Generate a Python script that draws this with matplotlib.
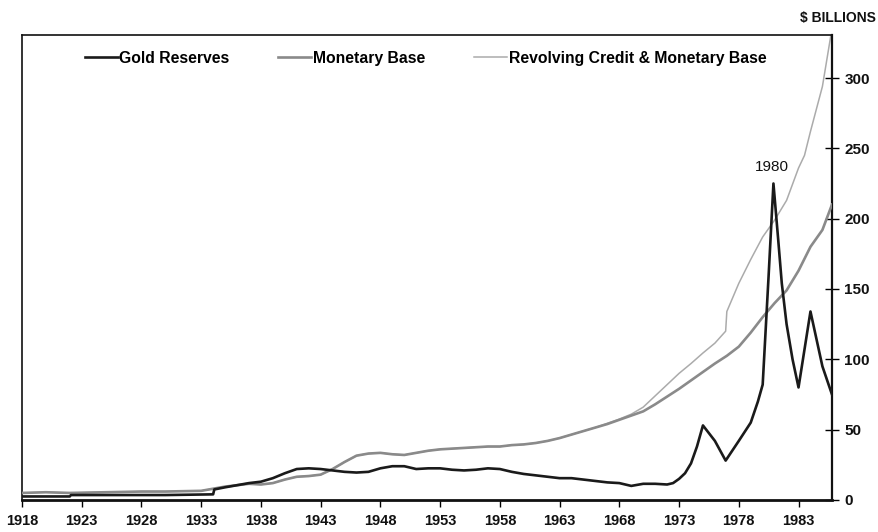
import matplotlib
matplotlib.use('Agg')
import matplotlib.pyplot as plt

# ── Palette ───────────────────────────────────────────────────────────────────
BLACK = "#1a1a1a"
MID   = "#8a8a8a"
LIGHT = "#ababab"

plt.rcParams['font.family'] = ['Liberation Sans', 'DejaVu Sans']

# ── Data ($ billions) ─────────────────────────────────────────────────────────
gold_years = [1918, 1922, 1922.1, 1926, 1930, 1934, 1934.1, 1935, 1936, 1937,
              1938, 1939, 1940, 1941, 1942, 1943, 1944, 1945, 1946, 1947,
              1948, 1949, 1950, 1951, 1952, 1953, 1954, 1955, 1956, 1957,
              1958, 1959, 1960, 1961, 1962, 1963, 1964, 1965, 1966, 1967,
              1968, 1969, 1970, 1971, 1972, 1972.5, 1973, 1973.5, 1974, 1974.5,
              1975, 1976, 1976.9, 1978, 1979, 1979.6, 1980, 1980.5, 1980.9, 1981.3,
              1981.6, 1982, 1982.5, 1983, 1984, 1985, 1985.8]
gold_vals = [2.5, 2.5, 3.5, 3.5, 3.5, 4, 7.5, 9, 10.5, 12,
             13, 15.5, 19, 22, 22.5, 22, 21, 20, 19.5, 20,
             22.5, 24, 24, 22, 22.5, 22.5, 21.5, 21, 21.5, 22.5,
             22, 20, 18.5, 17.5, 16.5, 15.5, 15.5, 14.5, 13.5, 12.5,
             12, 10, 11.5, 11.5, 11, 12, 15, 19, 26, 38,
             53, 42, 28, 42, 55, 70, 82, 160, 225, 185,
             154, 125, 100, 80, 134, 95, 75]

base_years = [1918, 1920, 1922, 1925, 1928, 1930, 1933, 1934, 1935, 1936,
              1937, 1938, 1939, 1940, 1941, 1942, 1943, 1944, 1945, 1946,
              1947, 1948, 1949, 1950, 1951, 1952, 1953, 1954, 1955, 1956,
              1957, 1958, 1959, 1960, 1961, 1962, 1963, 1964, 1965, 1966,
              1967, 1968, 1969, 1970, 1971, 1972, 1973, 1974, 1975, 1976,
              1977, 1978, 1979, 1980, 1981, 1982, 1983, 1984, 1985, 1985.8]
base_vals = [5, 5.5, 5, 5.5, 6, 6, 6.5, 8, 9.5, 10.5,
             11.5, 11, 12, 14.5, 16.5, 17, 18, 22, 27, 31.5,
             33, 33.5, 32.5, 32, 33.5, 35, 36, 36.5, 37, 37.5,
             38, 38, 39, 39.5, 40.5, 42, 44, 46.5, 49, 51.5,
             54, 57, 60, 63, 68, 73.5, 79, 85, 91, 97,
             102.5, 109, 119, 130, 140, 149, 163, 180, 192, 210]

rev_years = [1918, 1920, 1922, 1925, 1928, 1930, 1933, 1934, 1935, 1936,
             1937, 1938, 1939, 1940, 1941, 1942, 1943, 1944, 1945, 1946,
             1947, 1948, 1949, 1950, 1951, 1952, 1953, 1954, 1955, 1956,
             1957, 1958, 1959, 1960, 1961, 1962, 1963, 1964, 1965, 1966,
             1967, 1968, 1969, 1970, 1971, 1972, 1973, 1974, 1975, 1976,
             1976.9, 1977, 1978, 1979, 1980, 1981, 1982, 1983, 1983.5, 1984,
             1985, 1985.7]
rev_vals = [5, 5.5, 5, 5.5, 6, 6, 6.5, 8, 9.5, 10.5,
            11.5, 11, 12, 14.5, 16.5, 17, 18, 22, 27, 31.5,
            33, 33.5, 32.5, 32, 33.5, 35, 36, 36.5, 37, 37.5,
            38, 38, 39, 39.5, 40.5, 42, 44, 46.5, 49, 51.5,
            54.5, 57.5, 61, 66, 74, 82, 90, 97, 104.5, 111.5,
            120, 134, 154, 171, 187, 199, 213, 236, 245, 262,
            294, 330]

x_ticks = list(range(1918, 1986, 5))
y_ticks = [0, 50, 100, 150, 200, 250, 300]

# ── Figure ────────────────────────────────────────────────────────────────────
fig = plt.figure(figsize=(8.79, 5.32), dpi=100)
ax = fig.add_axes([0.025, 0.0602, 0.9215, 0.8738])

ax.plot(gold_years, gold_vals, color=BLACK, lw=1.9, label="Gold Reserves", zorder=4)
ax.plot(base_years, base_vals, color=MID, lw=1.9, label="Monetary Base", zorder=3)
ax.plot(rev_years, rev_vals, color=LIGHT, lw=1.1,
        label="Revolving Credit & Monetary Base", zorder=2)

ax.set_xlim(1918, 1985.8)
ax.set_ylim(0, 330.5)
ax.set_xticks(x_ticks)
ax.set_yticks(y_ticks)

ax.yaxis.tick_right()
ax.tick_params(axis='y', direction='inout', length=10, width=1, pad=4,
               labelsize=11)
ax.tick_params(axis='x', direction='out', length=5, width=1, pad=5,
               labelsize=10.5)
for lab in ax.get_xticklabels() + ax.get_yticklabels():
    lab.set_fontweight("bold")
    lab.set_color("#111111")

ax.spines['left'].set_linewidth(1.2)
ax.spines['top'].set_linewidth(1.2)
ax.spines['right'].set_linewidth(1.6)
ax.spines['bottom'].set_linewidth(2.0)
for s in ax.spines.values():
    s.set_color("#111111")

ax.text(1980.8, 237, "1980", ha="center", va="center", fontsize=11,
        color="#111111")
fig.text(0.996, 0.966, "$ BILLIONS", ha="right", va="center", fontsize=10,
         fontweight="bold", color="#111111")

ax.legend(loc="upper left", bbox_to_anchor=(0.058, 1.0), ncol=3, frameon=False,
          handlelength=2.1, handletextpad=0.12, columnspacing=3.1,
          prop={"size": 11.3, "weight": "bold"}, borderaxespad=0.6)

fig.savefig("out.png", dpi=100, facecolor="white")
plt.close(fig)
